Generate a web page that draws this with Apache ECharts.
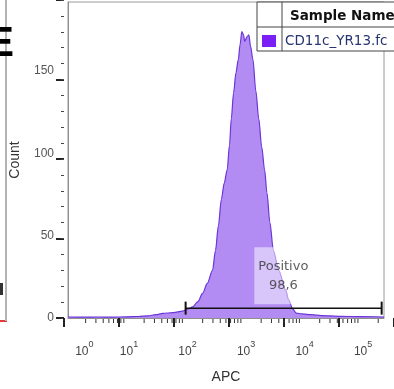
<!DOCTYPE html>
<html><head><meta charset="utf-8">
<script src="https://cdn.jsdelivr.net/npm/echarts@6/dist/echarts.min.js"></script>
<style>html,body{margin:0;padding:0;background:#fff}#c{width:394px;height:389px}</style>
</head><body><div id="c"></div>
<script>
// APC fluorescence, in decades (log10 of APC value)
const logAPC = [0.00,0.25,0.50,0.75,1.00,1.20,1.37,1.50,1.62,1.80,1.96,2.05,2.13,2.22,2.30,2.38,2.47,2.52,2.57,2.62,2.67,2.72,2.76,2.79,2.83,2.87,2.91,2.94,2.97,3.00,3.02,3.06,3.09,3.12,3.16,3.21,3.26,3.31,3.36,3.40,3.45,3.51,3.60,3.72,3.77,3.84,3.90,4.00,4.16,4.33,4.66,5.00,5.40];
// Event count per bin
const counts = [0.6,0.5,0.6,0.5,0.7,0.9,1.3,2.0,2.8,3.3,4.2,5.5,6.7,10,15,21,29,41,56,72,82,90,105,121,137,149,157,166,174,172,168,171,172,165,157,138,121,104,90,76,58,41,29,17,11,5.5,3,2.5,2,1.5,1.0,0.8,0.5];

const yMajorTicks = [0,50,100,150];
const xLabelPositions = [0.236,1,2,3,4,5];
const xMinorTicks = [];
for (let d = 0; d <= 5; d++) for (let k = 2; k <= 9; k++) { const v = d + Math.log10(k); if (v <= 5.4) xMinorTicks.push(v); }

const gateRange = [2.01, 5.36];
const gateLevel = 6;
const gateName = 'Positivo';
const gatePercent = '98,6';
const gateLabelAt = [3.68, 25.6];
const sampleHeader = 'Sample Name';
const sampleName = 'CD11c_YR13.fc';

// plot area geometry
const G = {left: 64, right: 10, top: 2, bottom: 71, w: 394, h: 389};
const X_MAX = 5.4, Y_MAX = 192;
const pxPerDecade = (G.w - G.left - G.right) / X_MAX;
const pxPerCount = (G.h - G.top - G.bottom) / Y_MAX;
// helper grid with rounder extents (same scale) used only to draw the major/minor ticks
const grid2 = {left: G.left, bottom: G.bottom, right: G.right - (6 - X_MAX) * pxPerDecade, top: G.top - (200 - Y_MAX) * pxPerCount};

const chart = echarts.init(document.getElementById('c'), null, {renderer: 'canvas'});
chart.setOption({
  animation: false,
  textStyle: {fontFamily: 'Liberation Sans'},
  grid: [
    {left: G.left, right: G.right, top: G.top, bottom: G.bottom, show: true, borderColor: '#9a9a9a', borderWidth: 1, backgroundColor: 'transparent'},
    Object.assign({show: false}, grid2)
  ],
  xAxis: [{
    gridIndex: 0, type: 'value', min: 0, max: X_MAX, position: 'bottom',
    axisLine: {show: true, lineStyle: {color: '#8f8f8f', width: 1}},
    axisTick: {show: false},
    axisLabel: {customValues: xLabelPositions, margin: 22,
      formatter: v => '{b|10}{s|' + Math.round(v) + '}',
      rich: {b: {fontSize: 12, lineHeight: 14, padding: [10, 0, 0, 5], color: '#444'},
             s: {fontSize: 9, lineHeight: 11, verticalAlign: 'top', color: '#444'}}},
    splitLine: {show: false},
    name: 'APC', nameLocation: 'middle', nameGap: 52, nameTextStyle: {fontSize: 14, color: '#333'}
  }, {
    gridIndex: 1, type: 'value', min: 0, max: 6, interval: 1, position: 'bottom',
    axisLine: {show: false},
    axisTick: {show: true, length: 9, lineStyle: {color: '#222', width: 2}},
    axisLabel: {show: false}, splitLine: {show: false}
  }],
  yAxis: [{
    gridIndex: 0, type: 'value', min: 0, max: Y_MAX, position: 'left',
    axisLine: {show: true, lineStyle: {color: '#8f8f8f', width: 1}},
    axisTick: {show: false},
    axisLabel: {customValues: yMajorTicks, margin: 14, fontSize: 12, color: '#555'},
    splitLine: {show: false},
    name: 'Count', nameLocation: 'middle', nameGap: 46, nameTextStyle: {fontSize: 14, color: '#333'}
  }, {
    gridIndex: 1, type: 'value', min: 0, max: 200, interval: 50, position: 'left',
    axisLine: {show: false},
    axisTick: {show: true, length: 8, lineStyle: {color: '#222', width: 2}},
    axisLabel: {show: false}, splitLine: {show: false}
  }, {
    gridIndex: 1, type: 'value', min: 0, max: 200, interval: 10, position: 'left',
    axisLine: {show: false},
    axisTick: {show: true, length: 3, lineStyle: {color: '#444', width: 1}},
    axisLabel: {show: false}, splitLine: {show: false}
  }],
  series: [{
    type: 'line', xAxisIndex: 0, yAxisIndex: 0,
    data: logAPC.map((x, i) => [x, counts[i]]),
    showSymbol: false, smooth: 0.3, smoothMonotone: 'x',
    lineStyle: {color: '#6b35d8', width: 1.2},
    areaStyle: {color: '#b38cf3', opacity: 1},
    z: 2, silent: true
  }, {
    type: 'line', xAxisIndex: 0, yAxisIndex: 0,
    data: [[gateRange[0], gateLevel], [gateRange[1], gateLevel]],
    symbol: 'rect', symbolSize: [2, 13], showSymbol: true,
    lineStyle: {color: '#111', width: 1.5}, itemStyle: {color: '#111'},
    z: 3, silent: true
  }, {
    type: 'scatter', xAxisIndex: 0, yAxisIndex: 0,
    data: [gateLabelAt], symbolSize: 0,
    label: {show: true, position: 'inside', formatter: gateName + '\n' + gatePercent,
      fontFamily: 'DejaVu Sans', fontSize: 13, lineHeight: 19, color: '#333', align: 'center',
      backgroundColor: 'rgba(255,255,255,0.62)', padding: [17, 4, 2, 4]},
    z: 4, silent: true
  }, {
    type: 'custom', xAxisIndex: 0, yAxisIndex: 0, clip: false, silent: true, z: 5,
    data: xMinorTicks.map(v => [v, 0]),
    encode: {x: 0, y: 1},
    renderItem: (params, api) => {
      const p = api.coord([api.value(0), 0]);
      return {type: 'line', shape: {x1: p[0], y1: p[1] + 1, x2: p[0], y2: p[1] + 5}, style: {stroke: '#333', lineWidth: 1}};
    }
  }],
  graphic: [
    {type: 'line', shape: {x1: 6, y1: 0, x2: 6, y2: 321}, style: {stroke: '#b4b4b4', lineWidth: 2}, z: 1},
    {type: 'rect', shape: {x: 0, y: 320, width: 7, height: 2}, style: {fill: '#e23a3a'}},
    {type: 'rect', shape: {x: 0, y: 283, width: 3, height: 12}, style: {fill: '#333'}},
    {type: 'text', x: 14, y: 44, style: {text: 'E', font: 'bold 42px "Liberation Sans"', fill: '#000', align: 'right', verticalAlign: 'middle'}, z: 10},
    {type: 'rect', shape: {x: 257, y: 2, width: 140, height: 49}, style: {fill: '#fff', stroke: '#444', lineWidth: 1}, z: 20},
    {type: 'line', shape: {x1: 257, y1: 27, x2: 397, y2: 27}, style: {stroke: '#444', lineWidth: 1}, z: 21},
    {type: 'line', shape: {x1: 282, y1: 2, x2: 282, y2: 51}, style: {stroke: '#444', lineWidth: 1}, z: 21},
    {type: 'rect', shape: {x: 262, y: 35, width: 14, height: 12}, style: {fill: '#7a1ff5'}, z: 21},
    {type: 'text', x: 290, y: 16, style: {text: sampleHeader, font: 'bold 13.5px "DejaVu Sans"', fill: '#111', verticalAlign: 'middle'}, z: 21},
    {type: 'text', x: 285, y: 41, style: {text: sampleName, font: '13.5px "DejaVu Sans"', fill: '#263470', verticalAlign: 'middle'}, z: 21}
  ]
});
</script></body></html>
